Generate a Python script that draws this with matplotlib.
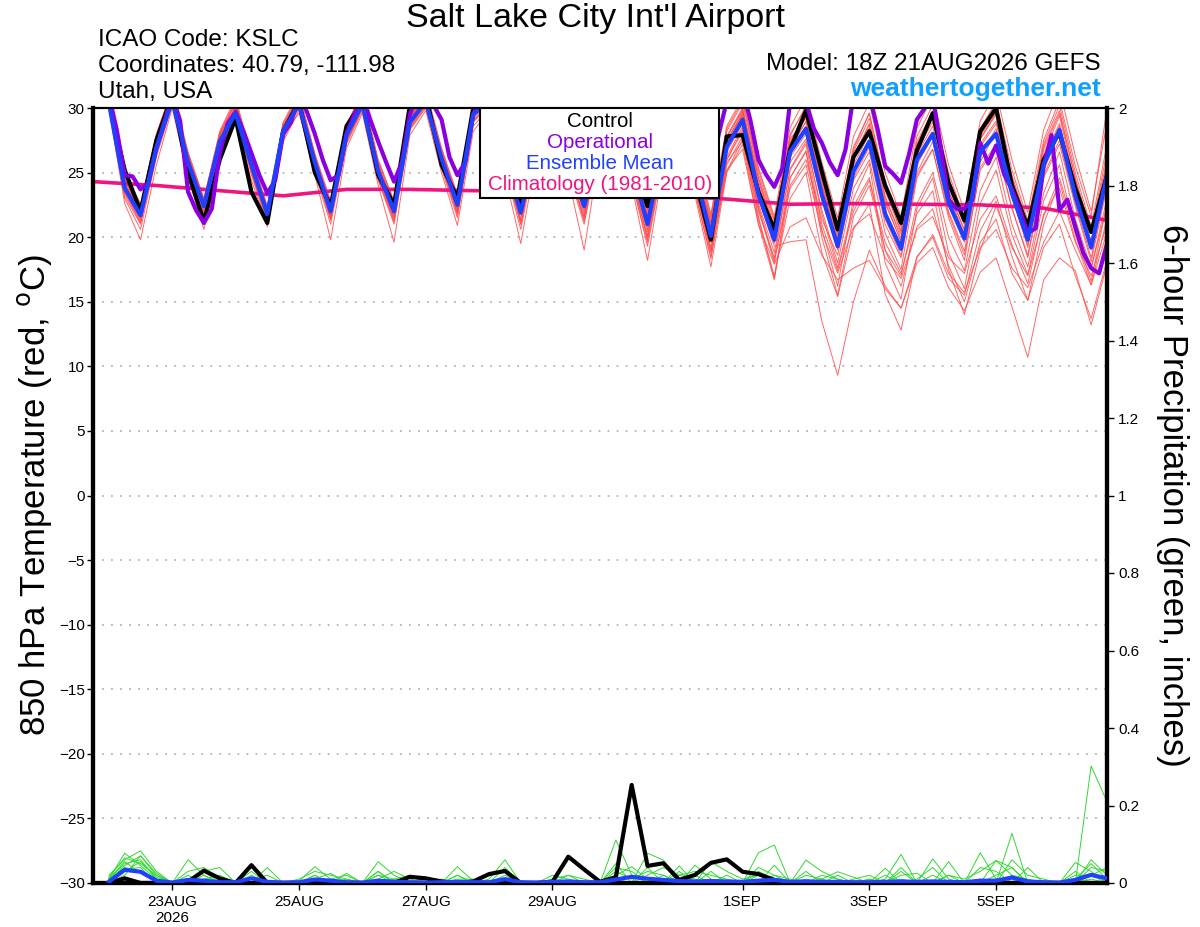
import numpy as np
import matplotlib
matplotlib.use("Agg")
import matplotlib.pyplot as plt
from matplotlib.patches import Rectangle

plt.rcParams['font.family'] = ['Liberation Sans', 'DejaVu Sans']

# time axes (GEFS 18Z 21AUG2026 run, 6-hourly; operational 3-hourly)
t0 = np.datetime64('2026-08-21T18')
times6 = t0 + np.arange(65) * np.timedelta64(6, 'h')
times3 = t0 + np.arange(129) * np.timedelta64(3, 'h')
clim_times = t0 + np.arange(17) * np.timedelta64(24, 'h')

tick_dates = ['2026-08-23', '2026-08-25', '2026-08-27', '2026-08-29',
              '2026-09-01', '2026-09-03', '2026-09-05']
tick_labels = ['23AUG\n2026', '25AUG', '27AUG', '29AUG', '1SEP', '3SEP', '5SEP']

# 850 hPa temperature (C)
control_t = [31.5, 30.5, 25.2, 22.0, 27.5, 31.0, 25.0, 21.2, 26.0, 29.2,
             23.5, 21.1, 28.2, 30.5, 25.0, 22.4, 28.6, 30.5, 24.8, 22.5,
             30.2, 31.0, 25.6, 23.0, 30.0, 31.0, 26.5, 22.6, 28.0, 30.5,
             26.5, 22.6, 28.5, 30.5, 26.0, 22.4, 27.5, 29.5, 24.5, 19.8,
             27.8, 27.9, 23.5, 20.6, 26.8, 29.8, 25.1, 20.6, 26.2, 28.2,
             24.0, 21.1, 26.7, 29.6, 24.2, 21.3, 28.2, 30.0, 24.0, 20.8,
             26.0, 28.1, 23.8, 20.4, 24.8]

mean_t = [31.5, 30.4, 23.8, 21.7, 26.9, 30.6, 25.8, 22.4, 27.4, 29.6,
          25.6, 21.8, 28.2, 30.3, 25.8, 22.0, 27.9, 30.3, 25.1, 22.0,
          28.9, 30.5, 26.1, 22.5, 29.5, 30.5, 26.0, 21.9, 27.5, 30.0,
          26.0, 22.4, 28.0, 30.0, 25.5, 21.0, 27.0, 29.5, 25.0, 20.1,
          27.0, 29.1, 23.3, 19.8, 26.6, 28.4, 23.3, 19.3, 25.1, 27.4,
          21.8, 19.1, 26.0, 28.0, 22.7, 19.9, 26.6, 28.0, 23.4, 19.8,
          25.6, 28.3, 23.2, 19.2, 24.8]

oper_t = [32.0, 31.5, 31.0, 28.3, 24.8, 24.7, 23.7, 24.2, 26.9, 28.9,
          31.0, 29.0, 23.5, 22.1, 21.1, 22.2, 26.5, 28.8, 29.7, 28.2,
          26.5, 24.8, 23.4, 24.4, 28.0, 28.9, 31.0, 29.7, 28.0, 26.0,
          24.4, 24.8, 28.0, 29.5, 31.0, 29.1, 27.4, 25.8, 24.3, 25.8,
          29.5, 31.0, 31.0, 30.2, 29.1, 26.2, 24.8, 25.8, 29.5, 31.0,
          31.0, 30.0, 28.0, 26.5, 25.5, 26.0, 28.5, 30.5, 31.0, 30.5,
          28.5, 26.5, 25.5, 26.0, 29.0, 30.5, 31.0, 30.5, 28.0, 26.0,
          24.5, 25.5, 28.5, 30.5, 31.0, 30.5, 28.0, 26.0, 25.0, 28.0,
          30.5, 31.0, 31.5, 29.0, 26.0, 24.8, 23.9, 25.3, 30.5, 31.0,
          30.5, 28.4, 27.3, 25.8, 24.8, 26.8, 31.0, 31.0, 31.0, 28.5,
          25.5, 24.9, 24.2, 26.4, 29.1, 30.0, 31.0, 27.0, 22.9, 22.2,
          22.2, 22.9, 27.3, 25.7, 27.1, 24.9, 23.7, 22.1, 20.3, 20.7,
          25.5, 27.9, 22.1, 22.9, 20.8, 18.8, 17.6, 17.2, 19.5]

clim_t = [24.3, 24.0, 23.6, 23.2, 23.7, 23.7, 23.6, 23.55, 23.45, 23.25,
          22.95, 22.55, 22.6, 22.55, 22.5, 22.25, 21.3]

members_t = [
    [31.2, 30.8, 24.5, 22.0, 27.5, 31.2, 26.3, 22.8, 27.9, 30.5, 25.9, 22.1, 28.6, 30.9, 26.2, 22.6, 28.4, 31.0, 25.7, 22.4, 29.4, 31.2, 26.6, 23.1, 30.2, 31.0, 26.8, 22.6, 28.3, 30.8, 26.9, 23.1, 28.8, 30.7, 26.4, 22.2, 27.9, 30.3, 25.9, 21.0, 27.8, 30.0, 24.3, 20.7, 27.4, 29.6, 24.6, 20.5, 26.2, 28.8, 23.0, 20.2, 27.1, 29.3, 24.0, 21.0, 27.6, 29.5, 24.8, 21.0, 26.8, 29.6, 24.5, 20.4, 26.0],
    [31.5, 30.2, 23.2, 21.0, 26.4, 30.4, 25.2, 21.8, 26.9, 29.8, 25.0, 21.2, 27.7, 30.2, 25.1, 21.4, 27.4, 30.0, 24.6, 21.3, 28.5, 30.4, 25.5, 21.8, 29.0, 30.3, 25.5, 21.0, 27.0, 29.7, 25.2, 21.6, 27.5, 29.5, 24.7, 20.1, 26.2, 28.9, 24.0, 18.9, 26.0, 28.2, 22.0, 18.4, 25.3, 27.4, 22.1, 18.0, 23.8, 26.0, 20.3, 17.5, 24.6, 26.8, 21.5, 18.2, 25.4, 27.2, 22.3, 18.4, 24.6, 27.2, 22.4, 18.1, 23.9],
    [31.0, 30.5, 24.0, 21.5, 27.0, 30.8, 25.9, 22.2, 27.6, 29.9, 25.4, 21.6, 28.0, 30.6, 25.6, 21.9, 27.8, 30.4, 25.0, 21.7, 28.8, 30.6, 26.0, 22.2, 29.6, 30.8, 26.1, 21.7, 27.6, 30.2, 26.0, 22.0, 27.8, 30.1, 25.3, 20.6, 27.0, 29.6, 24.8, 19.8, 26.6, 28.8, 23.0, 19.3, 19.65, 19.8, 13.5, 9.3, 15.0, 19.0, 16.2, 14.5, 18.4, 20.2, 17.2, 15.7, 19.2, 20.6, 17.6, 16.1, 19.6, 22.0, 19.0, 16.3, 20.4],
    [31.6, 30.9, 24.8, 22.3, 27.8, 31.0, 26.0, 22.5, 27.3, 29.5, 25.8, 22.0, 28.4, 30.4, 25.9, 22.1, 28.1, 30.6, 25.3, 22.2, 29.0, 30.9, 26.3, 22.7, 29.3, 30.6, 26.4, 22.2, 27.9, 30.3, 26.2, 22.5, 28.2, 30.0, 25.0, 20.9, 26.7, 29.0, 24.2, 19.2, 25.2, 26.8, 21.0, 17.9, 20.8, 21.5, 18.6, 16.7, 17.6, 18.2, 16.0, 14.5, 18.0, 19.2, 16.1, 14.3, 17.3, 18.4, 14.6, 10.7, 16.7, 18.4, 17.4, 13.2, 17.9],
    [31.3, 30.6, 23.5, 21.2, 26.6, 30.5, 25.5, 22.0, 27.0, 29.4, 25.2, 21.4, 27.9, 30.1, 25.4, 21.6, 27.6, 30.2, 24.8, 21.6, 28.6, 30.2, 25.8, 22.0, 29.1, 30.1, 25.7, 21.3, 27.2, 29.9, 25.5, 21.2, 27.1, 29.2, 24.4, 19.3, 25.8, 28.4, 23.5, 18.5, 25.1, 27.6, 21.4, 17.0, 23.0, 25.0, 18.8, 15.4, 20.6, 22.6, 15.6, 12.8, 18.5, 20.0, 16.8, 15.5, 20.5, 22.8, 18.5, 15.1, 21.0, 24.3, 19.8, 16.3, 21.5],
    [31.4, 30.3, 24.2, 21.9, 27.2, 30.9, 26.1, 22.6, 27.7, 29.7, 25.7, 21.9, 28.1, 30.5, 25.7, 21.8, 27.9, 30.3, 25.2, 21.9, 29.1, 30.5, 26.2, 22.4, 29.8, 30.5, 26.2, 21.9, 27.8, 30.4, 26.1, 22.3, 28.4, 30.4, 25.8, 21.3, 27.4, 29.8, 25.0, 20.3, 27.1, 29.3, 23.6, 19.5, 25.8, 27.6, 21.8, 17.6, 22.4, 24.6, 19.0, 16.2, 20.8, 22.2, 17.8, 15.0, 19.6, 21.4, 17.2, 15.1, 19.2, 21.0, 17.0, 13.7, 18.2],
    [31.8, 31.2, 25.0, 22.6, 28.0, 31.5, 26.6, 23.0, 28.2, 30.8, 26.3, 22.4, 28.9, 31.2, 26.5, 22.8, 28.7, 31.3, 26.0, 22.8, 29.7, 31.5, 26.9, 23.3, 30.5, 31.4, 27.2, 23.0, 28.6, 31.0, 27.2, 23.5, 29.2, 31.0, 26.8, 22.7, 28.5, 30.8, 26.6, 21.8, 28.6, 30.8, 25.4, 21.6, 28.5, 30.8, 25.8, 21.5, 27.8, 30.4, 25.0, 21.6, 28.4, 31.0, 25.6, 22.0, 29.0, 31.2, 26.0, 21.9, 28.3, 31.5, 26.3, 22.0, 28.9],
    [31.0, 30.6, 24.3, 21.8, 27.3, 30.8, 25.6, 22.3, 27.5, 30.2, 25.4, 21.7, 28.3, 30.7, 25.9, 22.2, 28.2, 30.8, 25.4, 22.1, 29.2, 30.8, 26.4, 22.6, 29.7, 30.9, 26.5, 22.4, 28.0, 30.6, 26.6, 22.8, 28.6, 30.6, 26.1, 21.8, 27.6, 30.0, 25.6, 21.0, 27.8, 29.8, 24.6, 20.9, 27.8, 30.2, 25.2, 21.0, 26.8, 29.6, 24.2, 20.8, 27.8, 30.2, 25.0, 21.4, 28.4, 30.5, 25.2, 21.3, 27.5, 30.6, 25.5, 21.6, 30.0],
    [31.5, 30.7, 23.9, 21.4, 26.8, 30.6, 25.8, 22.1, 27.2, 29.6, 25.5, 21.5, 28.1, 30.3, 25.5, 21.6, 27.7, 30.1, 24.9, 21.5, 28.7, 30.4, 25.9, 22.1, 29.2, 30.4, 25.8, 21.4, 27.3, 29.8, 25.6, 21.8, 27.6, 29.6, 24.9, 20.4, 26.5, 29.2, 24.3, 19.6, 26.2, 28.6, 22.6, 18.8, 25.2, 27.2, 21.0, 17.4, 22.0, 24.4, 19.6, 17.2, 21.8, 23.6, 17.5, 14.0, 19.0, 22.4, 19.2, 17.0, 21.6, 24.6, 20.4, 17.6, 22.4],
    [31.2, 30.4, 24.0, 21.6, 26.9, 30.7, 26.0, 22.5, 27.6, 29.9, 25.6, 21.9, 28.3, 30.6, 26.0, 22.2, 28.0, 30.5, 25.2, 22.0, 28.9, 30.7, 26.2, 22.6, 29.5, 30.7, 26.0, 21.8, 27.5, 30.2, 26.0, 22.4, 28.0, 30.2, 25.6, 21.1, 27.2, 29.7, 25.2, 20.5, 27.2, 29.4, 23.8, 20.0, 27.0, 28.9, 23.9, 19.8, 25.6, 28.0, 22.6, 19.7, 26.4, 28.6, 23.4, 20.2, 27.0, 28.8, 23.8, 20.0, 26.2, 28.8, 23.8, 19.6, 25.4],
    [31.0, 30.1, 23.0, 20.6, 26.2, 30.2, 25.0, 21.5, 26.8, 29.3, 24.8, 21.0, 27.6, 30.0, 25.0, 21.0, 27.2, 29.8, 24.4, 21.0, 28.3, 30.0, 25.3, 21.5, 28.6, 30.0, 25.3, 20.6, 26.8, 29.4, 25.0, 21.0, 27.2, 29.2, 24.3, 19.6, 26.0, 28.6, 23.6, 18.3, 25.6, 27.8, 21.6, 16.8, 24.6, 26.7, 20.6, 16.2, 23.0, 25.7, 18.0, 15.2, 22.2, 24.6, 18.8, 16.0, 22.6, 25.2, 20.2, 17.1, 22.8, 25.6, 20.2, 16.6, 22.6],
    [31.6, 31.0, 24.7, 22.2, 27.6, 31.0, 26.4, 22.9, 28.0, 30.3, 26.1, 22.2, 28.7, 30.8, 26.3, 22.4, 28.5, 30.9, 25.9, 22.6, 29.5, 31.0, 26.7, 23.0, 30.0, 31.1, 26.9, 22.8, 28.4, 30.9, 26.8, 23.2, 28.9, 30.8, 26.5, 22.4, 28.2, 30.5, 26.2, 21.4, 28.2, 30.4, 24.9, 21.2, 28.0, 30.0, 25.0, 20.8, 27.0, 29.6, 23.8, 20.5, 27.4, 29.7, 24.6, 21.2, 28.0, 29.9, 24.4, 20.6, 27.2, 30.2, 25.0, 20.8, 27.2],
    [31.3, 30.5, 24.4, 22.1, 27.4, 31.1, 26.2, 22.7, 27.8, 30.0, 25.9, 22.1, 28.5, 30.5, 26.1, 22.3, 28.3, 30.7, 25.5, 22.3, 29.3, 30.8, 26.5, 22.9, 29.9, 30.9, 26.6, 22.5, 28.1, 30.5, 26.4, 22.7, 28.3, 30.3, 25.9, 21.6, 27.6, 30.1, 25.4, 20.8, 27.4, 29.6, 24.0, 20.2, 26.4, 28.6, 24.2, 20.0, 26.0, 28.7, 23.2, 19.9, 26.8, 28.9, 23.6, 20.5, 27.2, 29.0, 23.9, 20.3, 25.9, 28.6, 23.3, 19.5, 24.6],
    [30.8, 30.0, 22.6, 19.8, 25.6, 30.0, 24.6, 20.6, 26.4, 29.0, 24.4, 20.8, 27.4, 29.8, 24.8, 19.8, 26.9, 29.6, 24.0, 19.6, 27.9, 29.8, 25.0, 20.9, 28.2, 29.8, 24.8, 19.5, 26.4, 29.2, 24.6, 19.0, 26.8, 29.0, 24.0, 18.2, 25.5, 28.4, 23.2, 17.7, 25.0, 27.2, 21.0, 16.7, 24.0, 26.0, 21.4, 18.6, 24.4, 26.6, 21.0, 18.4, 24.8, 26.8, 21.8, 18.6, 25.2, 27.0, 22.2, 18.6, 24.8, 27.5, 22.6, 18.4, 24.2],
    [31.7, 31.0, 24.9, 22.4, 27.9, 31.3, 26.5, 22.9, 28.1, 30.6, 26.2, 22.3, 28.8, 31.0, 26.4, 22.7, 28.6, 31.1, 25.8, 22.7, 29.6, 31.3, 26.8, 23.2, 30.3, 31.2, 27.0, 23.1, 28.7, 31.1, 27.1, 23.4, 29.0, 31.1, 26.9, 22.9, 28.4, 30.6, 26.4, 21.6, 28.4, 30.6, 25.2, 21.4, 27.6, 29.2, 24.0, 20.2, 26.4, 28.4, 22.0, 19.2, 25.6, 27.8, 22.4, 19.6, 26.4, 28.4, 23.0, 19.4, 25.2, 28.0, 23.0, 19.2, 25.0],
    [31.1, 30.3, 23.6, 21.3, 26.7, 30.3, 25.4, 21.9, 27.1, 29.1, 25.1, 21.3, 27.8, 29.6, 25.3, 21.5, 27.5, 29.9, 24.7, 21.4, 28.4, 30.1, 25.6, 21.9, 28.9, 30.2, 25.4, 21.2, 27.1, 29.6, 25.3, 21.5, 27.3, 29.4, 24.6, 20.0, 26.3, 28.8, 23.9, 19.0, 25.8, 27.4, 22.4, 18.2, 23.8, 25.6, 20.4, 17.2, 20.8, 21.8, 18.4, 16.8, 20.6, 21.6, 18.4, 17.2, 21.4, 23.2, 19.4, 16.4, 21.8, 23.8, 19.6, 17.0, 21.0],
    [31.4, 30.8, 24.6, 22.2, 27.7, 31.1, 26.3, 22.6, 27.9, 30.4, 26.0, 22.0, 28.5, 30.7, 26.0, 22.1, 28.2, 30.6, 25.6, 22.2, 29.3, 30.9, 26.4, 22.8, 29.9, 30.8, 26.3, 22.0, 28.0, 30.5, 26.4, 22.6, 28.5, 30.5, 26.0, 21.6, 27.8, 30.2, 25.6, 20.6, 27.7, 29.9, 24.6, 20.4, 27.2, 29.4, 24.8, 20.6, 26.6, 29.2, 23.6, 20.4, 27.2, 29.5, 24.4, 21.0, 27.8, 29.7, 24.6, 20.8, 27.0, 29.8, 24.6, 20.4, 26.6],
    [31.5, 30.6, 23.4, 21.1, 26.5, 30.5, 25.3, 21.7, 27.0, 29.5, 25.0, 21.3, 27.9, 30.2, 25.2, 21.3, 27.3, 30.0, 24.5, 21.2, 28.4, 30.3, 25.6, 21.7, 29.0, 30.2, 25.6, 21.0, 27.0, 29.9, 25.4, 21.4, 27.6, 29.8, 24.8, 19.8, 26.4, 29.0, 24.0, 18.8, 26.0, 28.4, 22.2, 18.0, 24.6, 26.6, 20.0, 15.5, 21.6, 24.0, 19.0, 17.0, 22.6, 25.0, 20.0, 17.4, 23.6, 26.2, 21.0, 17.7, 23.4, 26.6, 21.4, 17.6, 23.0],
    [31.2, 30.7, 24.1, 21.7, 27.1, 30.9, 25.9, 22.4, 27.5, 29.8, 25.7, 21.8, 28.2, 30.4, 25.8, 22.0, 28.0, 30.5, 25.1, 22.0, 29.0, 30.6, 26.1, 22.5, 29.5, 30.6, 26.2, 22.1, 27.7, 30.3, 26.2, 22.2, 28.1, 30.3, 25.5, 21.4, 27.3, 29.9, 25.3, 20.4, 27.4, 29.7, 24.1, 20.0, 26.8, 29.0, 24.4, 20.4, 26.0, 28.4, 22.8, 19.6, 26.8, 29.2, 23.6, 20.6, 27.6, 29.6, 24.4, 20.4, 26.4, 29.4, 24.0, 19.6, 25.8],
    [31.6, 30.9, 24.6, 22.4, 27.7, 30.8, 26.0, 22.6, 27.8, 30.1, 25.8, 22.3, 28.4, 30.5, 26.0, 22.5, 28.3, 30.7, 25.4, 22.5, 29.3, 30.7, 26.3, 23.0, 29.9, 30.8, 26.5, 22.3, 28.2, 30.6, 26.5, 22.9, 28.7, 30.6, 26.0, 22.0, 27.6, 30.2, 25.7, 21.2, 27.5, 29.5, 23.9, 19.7, 26.2, 28.0, 22.8, 19.0, 24.6, 27.0, 21.4, 18.6, 25.0, 27.4, 22.0, 18.9, 25.8, 28.2, 23.2, 19.2, 25.6, 28.4, 23.4, 19.0, 24.4],
]

# 6-hour precipitation (inches), valid 22AUG 00Z onwards
control_p = [0.0, 0.012, 0.0, 0.0, 0.0, 0.003, 0.032, 0.012,
             0.0, 0.046, 0.0, 0.0, 0.0, 0.0, 0.0, 0.0,
             0.0, 0.0, 0.0, 0.016, 0.012, 0.004, 0.0, 0.004,
             0.023, 0.031, 0.0, 0.0, 0.003, 0.068, 0.035, 0.003,
             0.015, 0.253, 0.044, 0.051, 0.008, 0.021, 0.052, 0.061,
             0.029, 0.023, 0.008, 0.0, 0.0, 0.0, 0.0, 0.0,
             0.0, 0.0, 0.0, 0.0, 0.0, 0.0, 0.0, 0.0,
             0.0, 0.0, 0.0, 0.0, 0.0, 0.0, 0.0, 0.0]

mean_p = [0.003, 0.034, 0.029, 0.006, 0.001, 0.008, 0.006, 0.002,
          0.002, 0.012, 0.003, 0.001, 0.002, 0.009, 0.006, 0.002,
          0.001, 0.006, 0.003, 0.002, 0.001, 0.002, 0.003, 0.002,
          0.002, 0.010, 0.002, 0.001, 0.003, 0.004, 0.002, 0.002,
          0.009, 0.016, 0.011, 0.008, 0.005, 0.004, 0.005, 0.004,
          0.003, 0.006, 0.008, 0.003, 0.004, 0.003, 0.003, 0.002,
          0.002, 0.003, 0.004, 0.003, 0.004, 0.003, 0.002, 0.006,
          0.006, 0.014, 0.004, 0.002, 0.001, 0.008, 0.021, 0.012]

members_p = [
    [0.010, 0.077, 0.045, 0.010, 0.000, 0.060, 0.020, 0.000, 0.000, 0.010, 0.000, 0.000, 0.005, 0.042, 0.010, 0.000, 0.000, 0.020, 0.010, 0.000, 0.000, 0.000, 0.042, 0.005, 0.000, 0.010, 0.000, 0.000, 0.010, 0.000, 0.000, 0.000, 0.111, 0.020, 0.000, 0.010, 0.000, 0.046, 0.010, 0.000, 0.000, 0.078, 0.098, 0.000, 0.010, 0.000, 0.000, 0.000, 0.000, 0.010, 0.074, 0.000, 0.020, 0.000, 0.000, 0.010, 0.000, 0.128, 0.000, 0.000, 0.000, 0.010, 0.050, 0.010],
    [0.020, 0.060, 0.083, 0.030, 0.000, 0.030, 0.040, 0.010, 0.000, 0.030, 0.000, 0.000, 0.000, 0.010, 0.025, 0.000, 0.000, 0.055, 0.020, 0.000, 0.000, 0.010, 0.000, 0.000, 0.010, 0.060, 0.000, 0.000, 0.020, 0.010, 0.000, 0.000, 0.020, 0.042, 0.010, 0.000, 0.044, 0.000, 0.000, 0.020, 0.000, 0.000, 0.046, 0.000, 0.059, 0.030, 0.010, 0.000, 0.000, 0.038, 0.000, 0.000, 0.062, 0.010, 0.000, 0.000, 0.058, 0.020, 0.010, 0.000, 0.000, 0.000, 0.010, 0.000],
    [0.005, 0.045, 0.070, 0.020, 0.000, 0.000, 0.030, 0.040, 0.000, 0.000, 0.040, 0.000, 0.000, 0.020, 0.000, 0.025, 0.000, 0.030, 0.000, 0.020, 0.000, 0.000, 0.010, 0.010, 0.000, 0.020, 0.000, 0.000, 0.000, 0.020, 0.010, 0.000, 0.000, 0.000, 0.077, 0.059, 0.010, 0.000, 0.055, 0.030, 0.010, 0.020, 0.000, 0.000, 0.000, 0.010, 0.029, 0.015, 0.000, 0.000, 0.020, 0.025, 0.000, 0.055, 0.000, 0.078, 0.010, 0.000, 0.040, 0.000, 0.000, 0.000, 0.302, 0.210],
    [0.010, 0.050, 0.060, 0.010, 0.000, 0.020, 0.000, 0.000, 0.000, 0.020, 0.000, 0.000, 0.010, 0.030, 0.020, 0.010, 0.000, 0.010, 0.030, 0.010, 0.000, 0.000, 0.000, 0.000, 0.000, 0.000, 0.000, 0.000, 0.000, 0.000, 0.000, 0.000, 0.030, 0.010, 0.030, 0.020, 0.000, 0.020, 0.000, 0.000, 0.000, 0.030, 0.010, 0.000, 0.000, 0.020, 0.010, 0.000, 0.010, 0.000, 0.030, 0.000, 0.000, 0.020, 0.010, 0.030, 0.058, 0.040, 0.000, 0.000, 0.000, 0.053, 0.030, 0.000],
    [0.015, 0.065, 0.050, 0.020, 0.000, 0.000, 0.010, 0.020, 0.000, 0.000, 0.000, 0.000, 0.000, 0.000, 0.010, 0.020, 0.000, 0.030, 0.000, 0.000, 0.000, 0.000, 0.020, 0.000, 0.020, 0.030, 0.000, 0.000, 0.000, 0.000, 0.000, 0.000, 0.010, 0.000, 0.020, 0.040, 0.020, 0.010, 0.000, 0.000, 0.000, 0.000, 0.020, 0.010, 0.000, 0.000, 0.000, 0.010, 0.020, 0.000, 0.000, 0.010, 0.040, 0.000, 0.000, 0.000, 0.000, 0.060, 0.020, 0.010, 0.000, 0.020, 0.020, 0.000],
    [0.010, 0.040, 0.030, 0.000, 0.000, 0.010, 0.030, 0.000, 0.000, 0.010, 0.020, 0.000, 0.000, 0.000, 0.000, 0.000, 0.000, 0.000, 0.010, 0.020, 0.000, 0.000, 0.000, 0.000, 0.000, 0.000, 0.000, 0.000, 0.010, 0.020, 0.000, 0.000, 0.040, 0.030, 0.000, 0.000, 0.020, 0.030, 0.020, 0.010, 0.000, 0.000, 0.000, 0.000, 0.030, 0.000, 0.020, 0.000, 0.000, 0.020, 0.000, 0.000, 0.000, 0.020, 0.000, 0.040, 0.030, 0.000, 0.000, 0.000, 0.000, 0.000, 0.040, 0.030],
    [0.005, 0.030, 0.055, 0.015, 0.000, 0.000, 0.000, 0.010, 0.000, 0.000, 0.000, 0.000, 0.000, 0.020, 0.000, 0.000, 0.000, 0.020, 0.000, 0.000, 0.000, 0.000, 0.000, 0.000, 0.000, 0.040, 0.000, 0.000, 0.000, 0.000, 0.000, 0.000, 0.050, 0.000, 0.040, 0.000, 0.000, 0.000, 0.030, 0.000, 0.000, 0.040, 0.020, 0.000, 0.000, 0.000, 0.000, 0.000, 0.000, 0.000, 0.010, 0.000, 0.000, 0.000, 0.000, 0.000, 0.000, 0.020, 0.000, 0.000, 0.000, 0.000, 0.020, 0.040],
    [0.010, 0.035, 0.040, 0.000, 0.000, 0.000, 0.020, 0.000, 0.000, 0.000, 0.000, 0.000, 0.000, 0.000, 0.000, 0.010, 0.000, 0.010, 0.000, 0.000, 0.000, 0.000, 0.000, 0.000, 0.000, 0.000, 0.000, 0.000, 0.000, 0.000, 0.000, 0.000, 0.000, 0.020, 0.010, 0.000, 0.030, 0.000, 0.010, 0.000, 0.000, 0.000, 0.000, 0.000, 0.020, 0.010, 0.000, 0.000, 0.000, 0.000, 0.000, 0.000, 0.000, 0.000, 0.000, 0.000, 0.000, 0.000, 0.000, 0.000, 0.000, 0.000, 0.060, 0.020],
    [0.000, 0.020, 0.070, 0.025, 0.000, 0.000, 0.000, 0.000, 0.000, 0.000, 0.000, 0.000, 0.000, 0.000, 0.000, 0.000, 0.000, 0.000, 0.000, 0.000, 0.000, 0.000, 0.020, 0.000, 0.000, 0.000, 0.000, 0.000, 0.000, 0.000, 0.000, 0.000, 0.000, 0.000, 0.000, 0.020, 0.000, 0.000, 0.000, 0.000, 0.000, 0.020, 0.000, 0.000, 0.000, 0.000, 0.000, 0.000, 0.000, 0.000, 0.040, 0.000, 0.000, 0.000, 0.000, 0.000, 0.020, 0.040, 0.000, 0.000, 0.000, 0.030, 0.000, 0.000],
    [0.010, 0.055, 0.025, 0.010, 0.000, 0.000, 0.000, 0.000, 0.000, 0.000, 0.000, 0.000, 0.000, 0.000, 0.000, 0.000, 0.000, 0.000, 0.000, 0.000, 0.000, 0.000, 0.000, 0.000, 0.000, 0.000, 0.000, 0.000, 0.000, 0.000, 0.000, 0.000, 0.000, 0.000, 0.000, 0.000, 0.000, 0.000, 0.000, 0.000, 0.000, 0.000, 0.000, 0.000, 0.000, 0.000, 0.000, 0.000, 0.010, 0.000, 0.000, 0.000, 0.000, 0.000, 0.000, 0.000, 0.000, 0.000, 0.000, 0.000, 0.000, 0.010, 0.000, 0.000],
]

for k, m in enumerate(members_t):
    assert len(m) == 65, "temp member %d has %d" % (k, len(m))
for k, m in enumerate(members_p):
    assert len(m) == 64, "precip member %d has %d" % (k, len(m))
assert len(oper_t) == 129, len(oper_t)

fig = plt.figure(figsize=(12, 9.27), dpi=100)
ax = fig.add_axes([93/1200, 44/927, 1014/1200, 775/927])

for m in members_t:
    ax.plot(times6, m, color='#ff4d4d', lw=0.7, alpha=0.85, zorder=2)
ax.plot(clim_times, clim_t, color='#f0147f', lw=2.6, zorder=3)
ax.plot(times6, control_t, color='black', lw=3, zorder=4)
ax.plot(times3, oper_t, color='#8a00e0', lw=3, zorder=5)
ax.plot(times6, mean_t, color='#2040ff', lw=3, zorder=6)

ax.set_ylim(-30, 30)
ax.set_yticks(range(-30, 31, 5))
ax.set_xlim(times6[0], times6[-1])
ax.set_xticks([np.datetime64(d) for d in tick_dates])
ax.set_xticklabels(tick_labels)
ax.grid(axis='y', color='#b4b4b4', lw=1.3, ls=(0, (1, 4)))
ax.set_axisbelow(True)
ax.tick_params(axis='y', direction='out', length=4, width=1, pad=2, labelsize=11)
ax.tick_params(axis='x', direction='out', length=5, width=1, pad=3.5, labelsize=11)

ax2 = ax.twinx()
for m in members_p:
    ax2.plot(times6[1:], m, color='#30d830', lw=0.7, zorder=2)
ax2.plot(times6[1:], control_p, color='black', lw=3, zorder=4)
ax2.plot(times6[1:], mean_p, color='#2040ff', lw=3, zorder=5)
ax2.set_ylim(0, 2)
pticks = [0, 0.2, 0.4, 0.6, 0.8, 1, 1.2, 1.4, 1.6, 1.8, 2]
ax2.set_yticks(pticks)
ax2.set_yticklabels(['%g' % v for v in pticks])
ax2.tick_params(axis='y', direction='out', length=5, width=1, pad=3, labelsize=11)
ax2.set_xlim(times6[0], times6[-1])

for a in (ax, ax2):
    for side in ('left', 'right', 'bottom'):
        a.spines[side].set_linewidth(3)
    a.spines['top'].set_linewidth(1.5)

# legend box
ax2.add_patch(Rectangle((0.3817, 0.8839), 0.2357, 0.1161, transform=ax2.transAxes,
                        facecolor='white', edgecolor='black', lw=1.5, zorder=10))
leg = [('Control', 'black', 0.983), ('Operational', '#8a00e0', 0.956),
       ('Ensemble Mean', '#2040ff', 0.929), ('Climatology (1981-2010)', '#f0147f', 0.901)]
for txt, col, yy in leg:
    ax2.text(0.5, yy, txt, color=col, fontsize=14.8, ha='center', va='center',
             transform=ax2.transAxes, zorder=11)

def ftext(x, y, s, **kw):
    fig.text(x/1200, 1 - y/927, s, **kw)

ftext(595, 18, "Salt Lake City Int'l Airport", fontsize=24.5, ha='center', va='center')
ftext(98, 40, "ICAO Code: KSLC", fontsize=17.5, ha='left', va='center')
ftext(98, 66, "Coordinates: 40.79, -111.98", fontsize=17.5, ha='left', va='center')
ftext(98, 92, "Utah, USA", fontsize=17.5, ha='left', va='center')
ftext(1101, 64, "Model: 18Z 21AUG2026 GEFS", fontsize=17.5, ha='right', va='center')
ftext(1101, 89, "weathertogether.net", fontsize=19, fontweight='bold', color='#12a0ff',
      ha='right', va='center')
ftext(35, 495, r"850 hPa Temperature (red, $^\mathrm{o}$C)", fontsize=25,
      rotation=90, ha='center', va='center')
ftext(1172, 495, "6-hour Precipitation (green, inches)", fontsize=25,
      rotation=270, ha='center', va='center')

fig.savefig('out.png', dpi=100)
